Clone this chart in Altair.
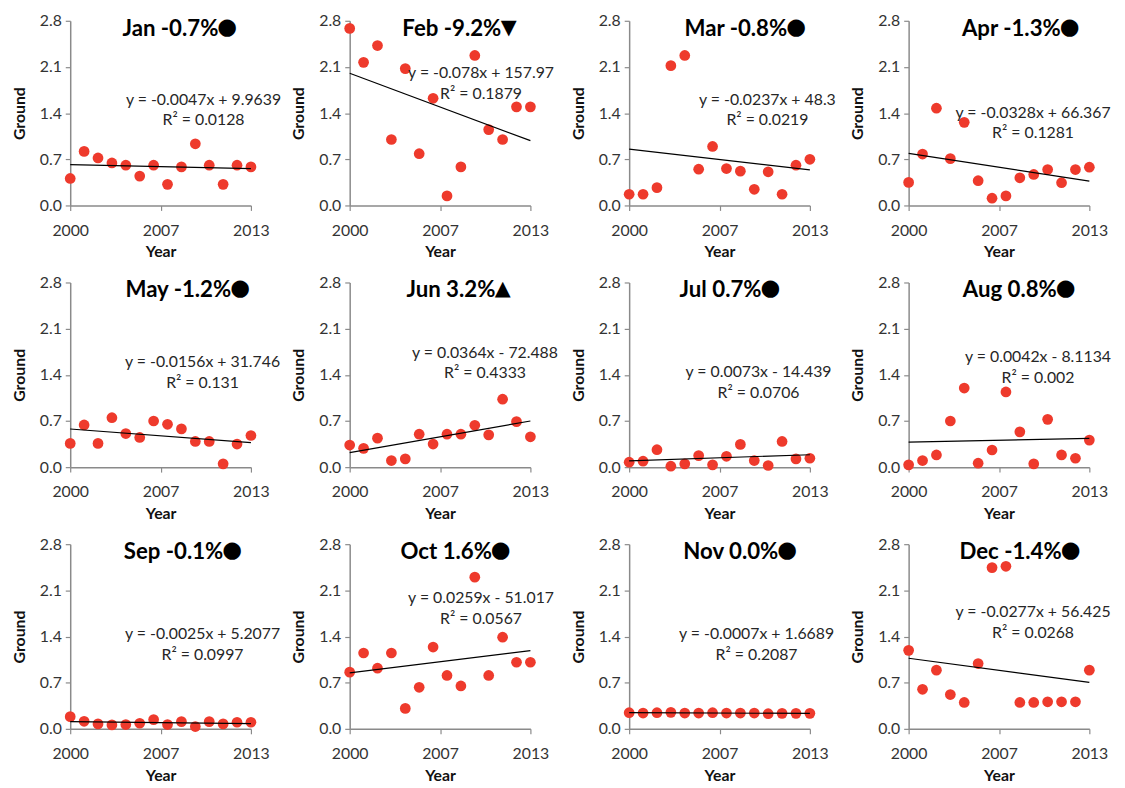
import altair as alt
import pandas as pd

years = list(range(2000, 2014))

jan = [0.41, 0.82, 0.72, 0.645, 0.61, 0.445, 0.61, 0.32, 0.585, 0.935, 0.61, 0.32, 0.61, 0.585]
feb = [2.685, 2.17, 2.425, 1.00, 2.075, 0.785, 1.625, 0.145, 0.585, 2.275, 1.15, 1.00, 1.495, 1.495]
mar = [0.17, 0.17, 0.27, 2.12, 2.275, 0.55, 0.895, 0.56, 0.52, 0.245, 0.51, 0.17, 0.61, 0.70]
apr = [0.35, 0.78, 1.475, 0.71, 1.26, 0.375, 0.11, 0.145, 0.42, 0.47, 0.545, 0.345, 0.545, 0.58]
may = [0.36, 0.64, 0.36, 0.75, 0.51, 0.45, 0.70, 0.65, 0.58, 0.39, 0.39, 0.05, 0.35, 0.48]
jun = [0.335, 0.285, 0.44, 0.10, 0.125, 0.50, 0.35, 0.50, 0.50, 0.635, 0.49, 1.03, 0.69, 0.46]
jul = [0.075, 0.09, 0.265, 0.015, 0.05, 0.175, 0.035, 0.165, 0.345, 0.10, 0.025, 0.39, 0.125, 0.135]
aug = [0.035, 0.10, 0.185, 0.70, 1.20, 0.06, 0.26, 1.14, 0.535, 0.05, 0.725, 0.185, 0.135, 0.41]
sep = [0.185, 0.115, 0.075, 0.06, 0.065, 0.085, 0.14, 0.065, 0.11, 0.035, 0.11, 0.075, 0.10, 0.10]
oct_ = [0.86, 1.15, 0.92, 1.15, 0.31, 0.63, 1.24, 0.81, 0.65, 2.30, 0.81, 1.39, 1.01, 1.01]
nov = [0.245, 0.24, 0.245, 0.25, 0.24, 0.24, 0.245, 0.24, 0.24, 0.24, 0.23, 0.235, 0.235, 0.235]
dec = [1.19, 0.60, 0.89, 0.52, 0.40, 0.99, 2.445, 2.465, 0.40, 0.40, 0.41, 0.41, 0.41, 0.89]

series = [jan, feb, mar, apr, may, jun, jul, aug, sep, oct_, nov, dec]

title_text = ["Jan -0.7%", "Feb -9.2%", "Mar -0.8%", "Apr -1.3%",
              "May -1.2%", "Jun 3.2%", "Jul 0.7%", "Aug 0.8%",
              "Sep -0.1%", "Oct 1.6%", "Nov 0.0%", "Dec -1.4%"]
title_sym = ["●", "▼", "●", "●", "●", "▲", "●", "●", "●", "●", "●", "●"]

equations = ["y = -0.0047x + 9.9639", "y = -0.078x + 157.97", "y = -0.0237x + 48.3",
             "y = -0.0328x + 66.367", "y = -0.0156x + 31.746", "y = 0.0364x - 72.488",
             "y = 0.0073x - 14.439", "y = 0.0042x - 8.1134", "y = -0.0025x + 5.2077",
             "y = 0.0259x - 51.017", "y = -0.0007x + 1.6689", "y = -0.0277x + 56.425"]
r_squared = ["R² = 0.0128", "R² = 0.1879", "R² = 0.0219", "R² = 0.1281",
             "R² = 0.131", "R² = 0.4333", "R² = 0.0706", "R² = 0.002",
             "R² = 0.0997", "R² = 0.0567", "R² = 0.2087", "R² = 0.0268"]

x_ticks = [2000, 2006.5, 2013]
y_ticks = [0.0, 0.7, 1.4, 2.1, 2.8]

# annotation placement (pixels inside each plot area)
eq_x = [135, 133, 140, 126, 134, 137, 131, 131, 134, 133, 129, 126]
eq_y = [80, 53, 80, 93, 81, 71, 91, 76, 91, 55, 91, 69]
sym_x = [159, 161, 169, 163, 172, 155, 143, 159, 164, 153, 160, 164]
title_y = 8

FONT = "Lato"
SYM_FONT = "DejaVu Sans"
RED = "#EE3A2C"
W, H = 183, 187


def panel(i):
    df = pd.DataFrame({"Year": years, "Ground": series[i]})
    base = alt.Chart(df)
    x = alt.X("Year:Q",
              scale=alt.Scale(domain=[2000, 2013], nice=False, zero=False),
              axis=alt.Axis(values=x_ticks, labelExpr="'' + round(datum.value)",
                            title="Year", grid=False, labelFlush=False,
                            labelOverlap=False, tickSize=5, labelPadding=12,
                            titlePadding=6))
    y = alt.Y("Ground:Q",
              scale=alt.Scale(domain=[0, 2.8], nice=False),
              axis=alt.Axis(values=y_ticks, format=".1f", title="Ground",
                            grid=False, tickSize=5, labelPadding=4,
                            titlePadding=12))
    pts = base.mark_circle(size=118, color=RED, opacity=1).encode(x=x, y=y)
    trend = base.transform_regression(
        "Year", "Ground", extent=[2000, 2013]
    ).mark_line(color="black", strokeWidth=1.2).encode(x="Year:Q", y="Ground:Q")

    eq1 = alt.Chart(pd.DataFrame({"t": [equations[i]]})).mark_text(
        font=FONT, fontSize=16, color="#262626", align="center", baseline="middle"
    ).encode(x=alt.value(eq_x[i]), y=alt.value(eq_y[i]), text="t:N")
    eq2 = alt.Chart(pd.DataFrame({"t": [r_squared[i]]})).mark_text(
        font=FONT, fontSize=16, color="#262626", align="center", baseline="middle"
    ).encode(x=alt.value(eq_x[i]), y=alt.value(eq_y[i] + 21), text="t:N")

    is_circle = title_sym[i] == "●"
    half = 9 if is_circle else 7.5
    ttl = alt.Chart(pd.DataFrame({"t": [title_text[i]]})).mark_text(
        font=FONT, fontSize=22.5, fontWeight="bold", color="black",
        align="right", baseline="middle"
    ).encode(x=alt.value(sym_x[i] - half), y=alt.value(title_y), text="t:N")
    sym = alt.Chart(pd.DataFrame({"t": [title_sym[i]]})).mark_text(
        font=SYM_FONT, fontSize=23 if is_circle else 21, color="black",
        align="center", baseline="middle"
    ).encode(x=alt.value(sym_x[i]), y=alt.value(title_y - (2 if is_circle else 1)),
             text="t:N")

    return alt.layer(pts, trend, eq1, eq2, ttl, sym).properties(width=W, height=H)


chart = alt.concat(
    *[panel(i) for i in range(12)],
    columns=4,
    spacing={"row": 78, "column": 100},
    bounds="flush",
).properties(
    padding={"left": 3, "top": 0, "right": 5, "bottom": 5}
).configure_axis(
    labelFont=FONT, titleFont=FONT, labelFontSize=16, titleFontSize=16,
    titleFontWeight="bold", labelColor="#333333", titleColor="#111111",
    domainColor="#8a8a8a", tickColor="#8a8a8a", domainWidth=1.5, tickWidth=1.2,
).configure_view(stroke=None)

chart.save("out.html", embed_options={"renderer": "svg", "actions": False})
